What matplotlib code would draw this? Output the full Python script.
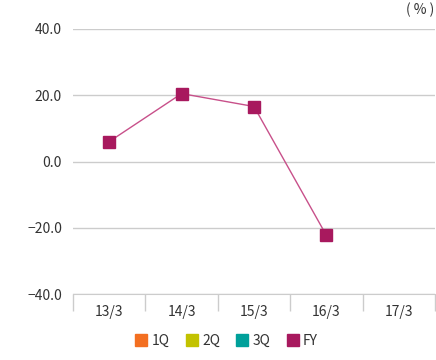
import matplotlib
matplotlib.use("Agg")
import matplotlib.pyplot as plt
from matplotlib.lines import Line2D
import numpy as np

plt.rcParams['font.family'] = ['Noto Sans CJK JP', 'DejaVu Sans']

categories = ["13/3", "14/3", "15/3", "16/3", "17/3"]
fy_values = [6.0, 20.5, 16.6, -22.3, None]
series_names = ["1Q", "2Q", "3Q", "FY"]
series_colors = ["#F36F21", "#C2C200", "#00A09A", "#A8195E"]
yticks = [-40.0, -20.0, 0.0, 20.0, 40.0]

fig = plt.figure(figsize=(4.36, 3.6), dpi=100)
ax = fig.add_axes([73/436, 1-294/360, (435-73)/436, (294-29)/360])

x = np.arange(len(categories))
xs = [xi for xi, v in zip(x, fy_values) if v is not None]
ys = [v for v in fy_values if v is not None]
ax.plot(xs, ys, color="#C8508A", lw=1.0, zorder=3)
ax.plot(xs, ys, ls="none", marker="s", ms=8.8, color=series_colors[3], zorder=4)

ax.set_xlim(-0.5, len(categories) - 0.5)
ax.set_ylim(-40, 40)
ax.set_yticks(yticks)
ax.set_yticklabels([f"{v:.1f}".replace("-", "\u2212") for v in yticks], fontsize=10, color="#333333")
ax.yaxis.grid(True, color="#cccccc", lw=1)
ax.set_axisbelow(True)
ax.tick_params(axis='y', length=0, pad=8)

ax.set_xticks(np.arange(-0.5, len(categories), 1.0))
ax.set_xticklabels([])
ax.tick_params(axis='x', which='major', length=12, color="#cccccc", width=1)
ax.set_xticks(x, minor=True)
ax.set_xticklabels(categories, minor=True, fontsize=10, color="#333333")
ax.tick_params(axis='x', which='minor', length=0, pad=8)

for s in ["top", "left", "right"]:
    ax.spines[s].set_visible(False)
ax.spines["bottom"].set_color("#cccccc")

fig.text(434/436, 1-10/360, "( % )", ha="right", va="center", fontsize=10, color="#333333")

handles = [Line2D([], [], ls="none", marker="s", ms=8, color=c) for c in series_colors]
fig.legend(handles, series_names, loc="center", bbox_to_anchor=(0.52, 1-341/360), ncol=4,
           frameon=False, fontsize=10, handlelength=0.8, handletextpad=0.35, columnspacing=1.2,
           labelcolor="#333333")

fig.savefig("out.png", dpi=100)
